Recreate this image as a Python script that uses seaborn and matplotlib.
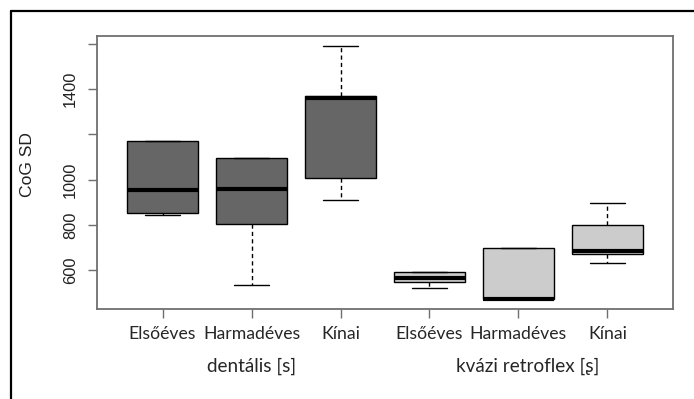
import matplotlib
matplotlib.use("Agg")
import matplotlib.pyplot as plt
from matplotlib.lines import Line2D
import pandas as pd
import seaborn as sns

# CoG SD per speaker group: min, lower hinge, median, upper hinge, max
speaker_groups = ["Elsőéves", "Harmadéves", "Kínai"]
sound_classes = ["dentális [s]", "kvázi retroflex [ʂ]"]

dental_elsoeves = [843, 852, 954, 1172, 1172]
dental_harmadeves = [536, 804, 957, 1095, 1095]
dental_kinai = [910, 1009, 1362, 1369, 1591]
retroflex_elsoeves = [520, 546, 566, 591, 591]
retroflex_harmadeves = [474, 474, 474, 699, 699]
retroflex_kinai = [632, 673, 685, 799, 897]

y_ticks = [600, 800, 1000, 1200, 1400, 1600]
y_tick_labels = ["600", "800", "1000", "", "1400", ""]
y_label = "CoG SD"

class_colors = {"dentális [s]": "#666666", "kvázi retroflex [ʂ]": "#cccccc"}

samples = {
    ("dentális [s]", "Elsőéves"): dental_elsoeves,
    ("dentális [s]", "Harmadéves"): dental_harmadeves,
    ("dentális [s]", "Kínai"): dental_kinai,
    ("kvázi retroflex [ʂ]", "Elsőéves"): retroflex_elsoeves,
    ("kvázi retroflex [ʂ]", "Harmadéves"): retroflex_harmadeves,
    ("kvázi retroflex [ʂ]", "Kínai"): retroflex_kinai,
}

rows = []
order = []
palette = {}
for cls in sound_classes:
    for grp in speaker_groups:
        key = f"{cls} | {grp}"
        order.append(key)
        palette[key] = class_colors[cls]
        for v in samples[(cls, grp)]:
            rows.append({"cell": key, "value": v})
df = pd.DataFrame(rows)

sns.set_theme(style="white")
plt.rcParams["font.family"] = ["Liberation Sans", "DejaVu Sans"]

fig = plt.figure(figsize=(6.94, 3.99), dpi=100)
ax = fig.add_axes([0.1393, 0.2263, 0.8309, 0.6842])

axis_gray = "#6f6f6f"

sns.boxplot(
    data=df, x="cell", y="value", hue="cell", order=order, hue_order=order,
    palette=palette, legend=False, saturation=1, width=0.8, whis=1.5,
    linecolor="black", linewidth=1.0, showfliers=False,
    medianprops=dict(color="black", linewidth=3.0, solid_capstyle="butt"),
    whiskerprops=dict(color="black", linewidth=1.0, linestyle=(0, (3, 2.3))),
    capprops=dict(color="black", linewidth=1.0),
    ax=ax,
)

# R-style axis ranges: 4% padding around data and category slots
n = len(order)
ax.set_xlim(-0.5 - 0.04 * n, n - 0.5 + 0.04 * n)
lo, hi = df["value"].min(), df["value"].max()
pad = 0.04 * (hi - lo)
ax.set_ylim(lo - pad, hi + pad)

ax.set_xlabel("")
ax.set_ylabel("")
ax.set_yticks(y_ticks)
ax.set_yticklabels(y_tick_labels, rotation=90, va="center", fontsize=11.8,
                   color="#222222")
ax.set_xticks(range(n))
ax.set_xticklabels(speaker_groups * len(sound_classes),
                   family=["Lato", "DejaVu Sans"], fontsize=12.7,
                   color="#262626")
ax.tick_params(axis="y", direction="out", length=6.5, width=1.0,
               color=axis_gray, pad=7, left=True)
ax.tick_params(axis="x", direction="out", length=6.5, width=1.0,
               color=axis_gray, pad=6, bottom=True)
for sp in ax.spines.values():
    sp.set_visible(True)
    sp.set_color(axis_gray)
    sp.set_linewidth(1.3)
ax.grid(False)

fig.text(27 / 694, 1 - 165 / 399, y_label, rotation=90, ha="center",
         va="center", fontsize=12.6, color="#222222")

# sound class captions under each group of three
for i, cls in enumerate(sound_classes):
    x_disp = ax.transData.transform((i * 3 + 1 + 0.1 * i, 0))[0]
    fig.text(x_disp / fig.dpi / fig.get_figwidth(), 1 - 366 / 399, cls,
             ha="center", va="center", fontsize=13.6, color="#262626",
             family=["Lato", "DejaVu Sans"])

# page frame (top and left edges)
fx = 11 / 694
fy = 1 - 11 / 399
fig.add_artist(Line2D([fx, 1.0], [fy, fy], color="black", linewidth=1.6))
fig.add_artist(Line2D([fx, fx], [0.0, fy], color="black", linewidth=1.6))

fig.savefig("out.png", dpi=100, facecolor="white")
